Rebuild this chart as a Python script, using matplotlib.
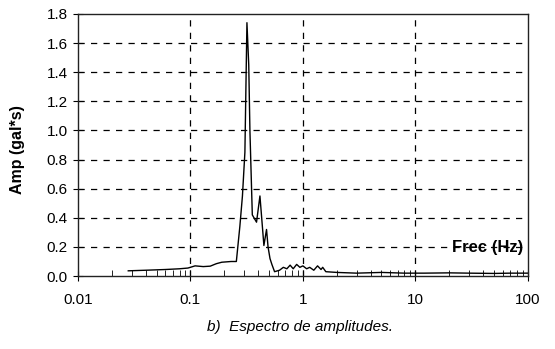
import matplotlib
matplotlib.use("Agg")
import matplotlib.pyplot as plt
import numpy as np

plt.rcParams['font.family'] = ['Liberation Sans', 'DejaVu Sans']

# spectrum (Hz, gal*s)
freq = [0.028, 0.04, 0.06, 0.08, 0.095, 0.11, 0.13, 0.15, 0.17, 0.19, 0.23,
        0.256, 0.275, 0.29, 0.305, 0.318, 0.33, 0.338, 0.355, 0.387, 0.415,
        0.45, 0.475, 0.49, 0.51, 0.53, 0.56, 0.62, 0.67, 0.72, 0.77, 0.82,
        0.88, 0.94, 1.0, 1.08, 1.15, 1.25, 1.35, 1.45, 1.5, 1.6, 2.0, 3.0,
        5.0, 8.0, 12.0, 20.0, 30.0, 50.0, 70.0, 100.0]
amp = [0.036, 0.04, 0.045, 0.05, 0.055, 0.07, 0.065, 0.068, 0.085, 0.095, 0.1,
       0.1, 0.34, 0.55, 0.85, 1.74, 1.45, 1.0, 0.42, 0.37, 0.55,
       0.21, 0.32, 0.2, 0.12, 0.08, 0.03, 0.04, 0.06, 0.05, 0.075, 0.05,
       0.08, 0.06, 0.07, 0.05, 0.06, 0.04, 0.07, 0.045, 0.06, 0.03, 0.025, 0.02,
       0.025, 0.02, 0.02, 0.022, 0.02, 0.018, 0.02, 0.02]

yticks = [0.0, 0.2, 0.4, 0.6, 0.8, 1.0, 1.2, 1.4, 1.6, 1.8]
xticks = [0.01, 0.1, 1, 10, 100]
xticklabels = ['0.01', '0.1', '1', '10', '100']

fig = plt.figure(figsize=(5.55, 3.49), dpi=100)
ax = fig.add_axes([0.1405, 0.209, 0.8105, 0.751])

ax.plot(freq, amp, color='black', linewidth=1.0)

ax.set_xscale('log')
ax.set_xlim(0.01, 100)
ax.set_ylim(0, 1.8)
ax.set_xticks(xticks)
ax.set_xticklabels(xticklabels)
ax.set_yticks(yticks)
ax.set_yticklabels([f"{v:.1f}" for v in yticks])

# dashed grid, horizontal at each 0.2 and vertical at decades
for v in yticks[1:-1]:
    ax.axhline(v, color='black', linestyle=(0, (5, 5)), linewidth=0.9)
for v in [0.1, 1, 10]:
    ax.axvline(v, color='black', linestyle=(0, (5, 5)), linewidth=0.9)

for s in ax.spines.values():
    s.set_linewidth(1.0)
    s.set_color('#222222')

ax.tick_params(axis='y', which='major', direction='inout', length=7,
               labelsize=11, pad=4)
ax.tick_params(axis='x', which='major', direction='inout', length=7,
               labelsize=11, pad=9)
ax.tick_params(axis='x', which='minor', direction='in', length=4)

ax.text(0.99, 0.11, 'Frec (Hz)', transform=ax.transAxes, ha='right',
        va='center', fontsize=12, fontweight='bold')

fig.text(18 / 555, 1 - 150 / 349, 'Amp (gal*s)', rotation=90, ha='center',
         va='center', fontsize=11.5, fontweight='bold')
fig.text(300 / 555, 1 - 327 / 349, 'b)  Espectro de amplitudes.',
         ha='center', va='center', fontsize=11, style='italic')

fig.savefig('out.png', dpi=100)
